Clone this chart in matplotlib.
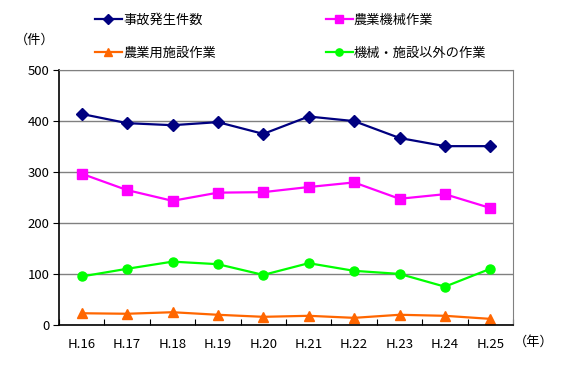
import numpy as np
import matplotlib.pyplot as plt

plt.rcParams['font.family'] = ['Noto Sans CJK JP', 'DejaVu Sans']

years = ['H.16', 'H.17', 'H.18', 'H.19', 'H.20', 'H.21', 'H.22', 'H.23', 'H.24', 'H.25']
total = [413, 395, 391, 397, 374, 408, 399, 366, 350, 350]
machine = [296, 264, 243, 259, 260, 270, 279, 247, 256, 229]
facility = [23, 22, 25, 20, 16, 18, 14, 20, 18, 12]
other = [95, 110, 124, 119, 98, 121, 106, 100, 75, 110]

fig = plt.figure(figsize=(5.69, 3.74), dpi=100)
ax = fig.add_axes([59 / 569, 1 - 325 / 374, 454 / 569, 255.5 / 374])

x = np.arange(len(years)) + 0.5
l1, = ax.plot(x, total, color='#000080', marker='D', markersize=6.5, lw=1.6, label='事故発生件数')
l2, = ax.plot(x, machine, color='#FF00FF', marker='s', markersize=6.5, lw=1.6, label='農業機械作業')
l3, = ax.plot(x, facility, color='#FF6600', marker='^', markersize=7, lw=1.6, label='農業用施設作業')
l4, = ax.plot(x, other, color='#00FF00', marker='o', markersize=6.5, lw=1.6, label='機械・施設以外の作業')

ax.set_xlim(0, 10)
ax.set_ylim(0, 500)
ax.set_yticks(range(0, 501, 100))
ax.yaxis.grid(True, color='#808080', lw=1)
ax.set_axisbelow(True)

ax.set_xticks(np.arange(0, 11))
ax.set_xticklabels([])
ax.set_xticks(x, minor=True)
ax.set_xticklabels(years, minor=True)
ax.tick_params(axis='x', which='major', direction='in', length=4, color='black')
ax.tick_params(axis='x', which='minor', length=0, pad=9, labelsize=9.5)
ax.tick_params(axis='y', direction='out', length=4, labelsize=9.5, pad=3)

for s in ['top', 'right']:
    ax.spines[s].set_color('#808080')
for s in ['left', 'bottom']:
    ax.spines[s].set_color('black')
    ax.spines[s].set_linewidth(1.2)

fig.text(15 / 569, 1 - 40 / 374, '（件）', fontsize=9.5, va='center')
fig.text(514 / 569, 1 - 342 / 374, '（年）', fontsize=9.5, va='center')

fig.legend([l1, l3, l2, l4], [l1.get_label(), l3.get_label(), l2.get_label(), l4.get_label()],
           ncol=2, loc='upper left', bbox_to_anchor=(83 / 569, 1 - 2 / 374),
           frameon=False, fontsize=9.5, handlelength=2.05, handletextpad=0.1,
           columnspacing=8.3, labelspacing=1.5, markerscale=0.8)

fig.savefig('out.png', dpi=100)
